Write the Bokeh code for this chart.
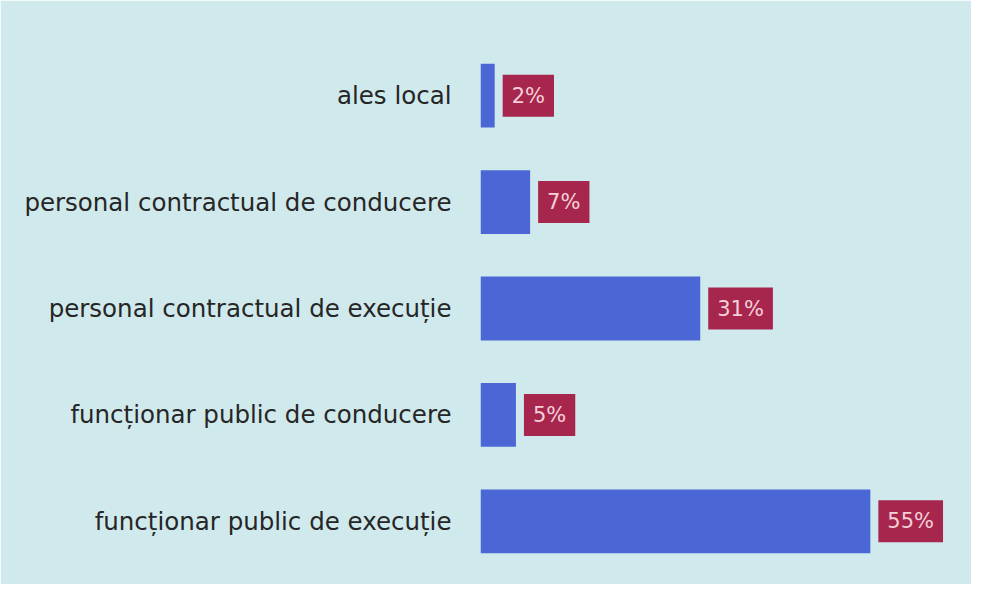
from bokeh.plotting import figure
from bokeh.models import ColumnDataSource, FactorRange, Range1d
from bokeh.core.properties import value
from bokeh.embed import file_html
from bokeh.resources import INLINE

categories = [
    "funcționar public de execuție",
    "funcționar public de conducere",
    "personal contractual de execuție",
    "personal contractual de conducere",
    "ales local",
]
shares = [55, 5, 31, 7, 2]
labels = ["55%", "5%", "31%", "7%", "2%"]

src = ColumnDataSource(dict(cat=categories, val=shares, lab=labels))

BG = "#D0E9EC"
p = figure(width=971, height=584, output_backend="svg", toolbar_location=None,
           y_range=FactorRange(*categories), x_range=Range1d(0, 68))
p.background_fill_color = BG
p.border_fill_color = BG
p.outline_line_color = BG
p.outline_line_width = 2
p.min_border_left = 480
p.min_border_right = 9
p.min_border_top = 42
p.min_border_bottom = 10

p.hbar(y="cat", left=0, right="val", height=0.6, source=src,
       fill_color="#4A67D5", line_color=None)

p.text(x="val", y="cat", text="lab", source=src, x_offset=8,
       text_align="left", text_baseline="middle",
       text_font=value("DejaVu Sans"), text_font_size="21px",
       text_color="#F6D0D8",
       background_fill_color="#A6264D", padding=[9, 9, 9, 9])

p.xaxis.visible = False
p.xgrid.grid_line_color = None
p.ygrid.grid_line_color = None
ax = p.yaxis[0]
ax.axis_line_color = None
ax.major_tick_line_color = None
ax.minor_tick_line_color = None
ax.major_label_text_font = "DejaVu Sans"
ax.major_label_text_font_size = "24.5px"
ax.major_label_text_color = "#262626"
ax.major_label_standoff = 23

open("out.html", "w").write(file_html(p, INLINE))
